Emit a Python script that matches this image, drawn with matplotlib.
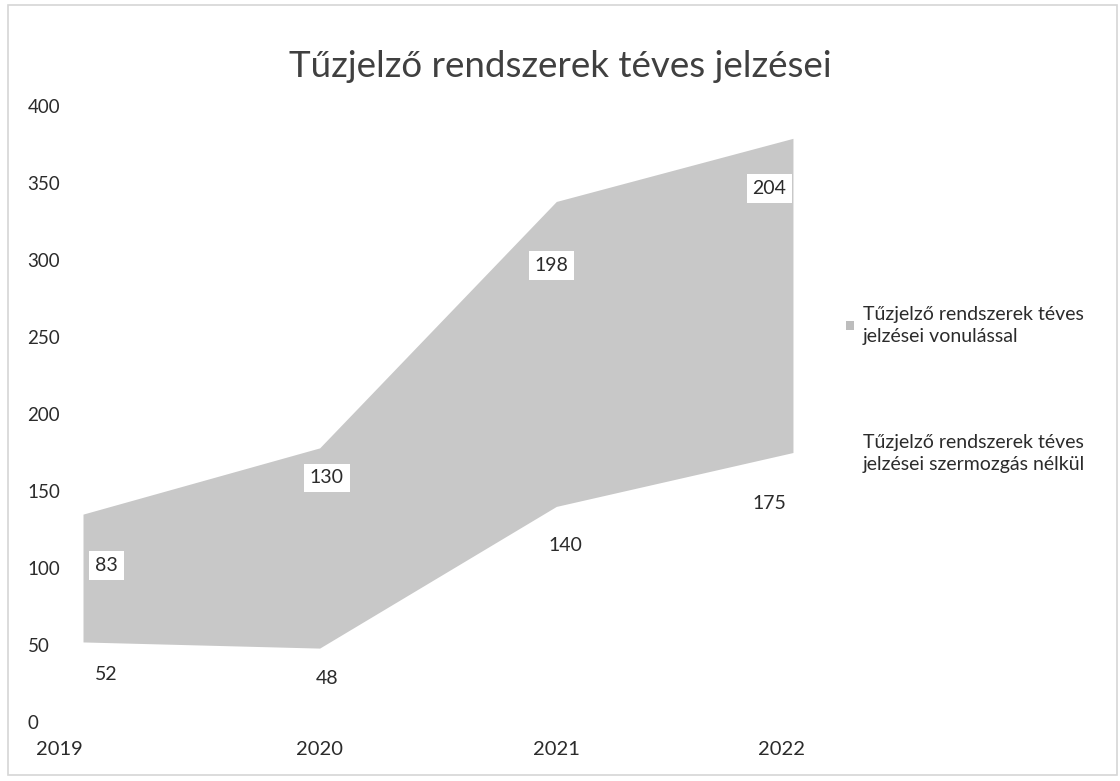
import numpy as np
import matplotlib.pyplot as plt
import matplotlib.transforms as mtransforms
from matplotlib.patches import Patch, Rectangle

# ---------- DATA ----------
years = ["2019", "2020", "2021", "2022"]
no_movement = [52, 48, 140, 175]      # téves jelzések szermozgás nélkül
with_dispatch = [83, 130, 198, 204]   # téves jelzések vonulással

series_labels = [
    "Tűzjelző rendszerek téves\njelzései vonulással",
    "Tűzjelző rendszerek téves\njelzései szermozgás nélkül",
]
title = "Tűzjelző rendszerek téves jelzései"

# ---------- PLOT ----------
plt.rcParams["font.family"] = ["Lato", "DejaVu Sans"]
text_color = "#2b2b2b"
grey = "#c8c8c8"

fig = plt.figure(figsize=(11.2, 7.81), dpi=100)
ax = fig.add_axes([0.0741, 0.0755, 0.6339, 0.7888])

x = np.arange(len(years))
bottom = np.array(no_movement)
top = bottom + np.array(with_dispatch)

ax.fill_between(x, 0, bottom, color="white", linewidth=0)
ax.fill_between(x, bottom, top, color=grey, linewidth=0)

ax.set_xlim(0, len(years) - 1)
ax.set_ylim(0, 400)
ax.set_yticks(range(0, 401, 50))
ax.set_xticks(x)
ax.set_xticklabels(years)
for s in ax.spines.values():
    s.set_visible(False)
ax.tick_params(axis="both", length=0, colors=text_color)
ax.tick_params(axis="y", pad=40, labelsize=13.5)
ax.tick_params(axis="x", pad=14, labelsize=14.5)
for lab in ax.get_yticklabels():
    lab.set_horizontalalignment("left")
xlabs = ax.get_xticklabels()
xlabs[0].set_horizontalalignment("right")
xlabs[-1].set_transform(xlabs[-1].get_transform() +
                        mtransforms.ScaledTranslation(-0.11, 0, fig.dpi_scale_trans))

# data labels (Excel-like placement inside each band)
x_shift = [0.1, 0.03, 0.04, -0.1]
top_x_shift = [0.1, 0.03, -0.02, -0.1]
bottom_label_frac = [0.59, 0.59, 0.82, 0.81]
top_label_frac = [0.60, 0.85, 0.79, 0.84]
for i in range(len(years)):
    ax.text(x[i] + x_shift[i], bottom[i] * bottom_label_frac[i], str(no_movement[i]),
            ha="center", va="center", fontsize=14, color=text_color)
    ax.text(x[i] + top_x_shift[i], bottom[i] + with_dispatch[i] * top_label_frac[i],
            str(with_dispatch[i]), ha="center", va="center", fontsize=14,
            color=text_color,
            bbox=dict(boxstyle="square,pad=0.3", facecolor="white", edgecolor="none"))

fig.text(0.5, 0.915, title, ha="center", va="center", fontsize=26.5, color="#404040")

handles = [Patch(facecolor="#bdbdbd", edgecolor="none"),
           Patch(facecolor="white", edgecolor="none")]
leg = fig.legend(handles, series_labels, loc="upper left",
                 bbox_to_anchor=(0.74, 0.631), frameon=False, fontsize=14,
                 handlelength=0.4, handleheight=0.4, handletextpad=0.45,
                 labelspacing=4.55, labelcolor=text_color)
for t in leg.get_texts():
    t.set_linespacing(1.4)

# faint outline of the scanned chart area
fig.patches.append(Rectangle((0.007, 0.008), 0.99, 0.985, transform=fig.transFigure,
                             fill=False, edgecolor="#d6d6d6", linewidth=1.2))

plt.savefig("out.png", dpi=100)
